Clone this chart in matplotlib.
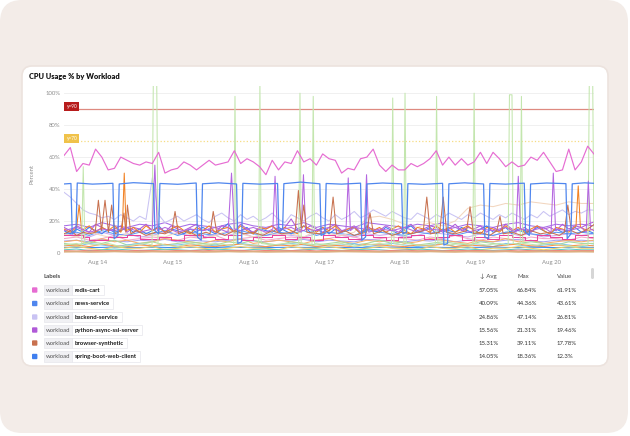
import numpy as np
import matplotlib
matplotlib.use("Agg")
import matplotlib.pyplot as plt
import matplotlib.dates as mdates
from matplotlib.patches import FancyBboxPatch, Rectangle

plt.rcParams['font.family'] = ['Lato', 'DejaVu Sans']

# ---------------- data ----------------
start = mdates.date2num(np.datetime64('2024-08-13T13:30'))
hours_2h = np.arange(0, 169, 2)     # 85 samples
hours_4h = np.arange(0, 169, 4)     # 43 samples

redis_cart = [61, 66, 51, 56, 55, 65, 60, 52, 53, 60,
              58, 56, 55, 57, 56, 63, 50, 52, 53, 57,
              55, 52, 55, 58, 55, 56, 57, 64, 56, 59,
              57, 54, 49, 58, 52, 57, 56, 64, 57, 59,
              55, 62, 59, 58, 50, 53, 52, 59, 60, 65,
              55, 51, 55, 52, 52, 56, 54, 56, 59, 64,
              55, 60, 55, 59, 55, 57, 63, 56, 63, 59,
              54, 57, 54, 55, 60, 58, 63, 57, 51, 52,
              65, 52, 57, 66.84, 61.91]

news_service = [(0, 43.2), (2.2, 43.5), (2.6, 12), (3.8, 14), (4.2, 43.8), (9, 43.1),
                (15.5, 43.6), (15.9, 9), (17.1, 11), (17.5, 43.2), (22, 44.0),
                (28.4, 43.4), (28.8, 14), (30.0, 12), (30.4, 43.5), (36, 43.0),
                (41.9, 43.8), (42.3, 10), (43.5, 8), (43.9, 43.3), (49, 43.9),
                (54.7, 43.2), (55.1, 6), (56.3, 7), (56.7, 43.6), (62, 43.1),
                (67.7, 43.5), (68.1, 13), (69.3, 15), (69.7, 43.4), (75, 44.36),
                (81.1, 43.3), (81.5, 11), (82.7, 12), (83.1, 43.5), (88, 43.1),
                (94.0, 43.7), (94.4, 8), (95.6, 10), (96.0, 43.2), (101, 43.8),
                (107.0, 43.3), (107.4, 12), (108.6, 13), (109.0, 43.4), (114, 43.0),
                (120.0, 43.6), (120.4, 5), (121.6, 6), (122.0, 43.3), (127, 43.9),
                (133.0, 43.2), (133.4, 10), (134.6, 9), (135.0, 43.5), (140, 43.1),
                (145.9, 43.7), (146.3, 13), (147.5, 11), (147.9, 43.2), (153, 43.8),
                (159.1, 43.4), (159.5, 9), (160.7, 12), (161.1, 43.3), (165, 43.9),
                (168, 43.61)]

backend_service = [38, 35, 31, 27, 25, 24, 22, 23, 21, 24,
                   22, 20, 23, 21, 47.14, 24, 19, 21, 23, 20,
                   22, 24, 21, 19, 23, 25, 22, 20, 24, 21,
                   23, 20, 22, 25, 21, 19, 24, 22, 20, 23,
                   25, 22, 20, 24, 21, 23, 26, 22, 24, 27,
                   25, 23, 26, 24, 22, 21, 25, 23, 21, 24,
                   22, 25, 23, 21, 24, 22, 25, 23, 21, 24,
                   22, 25, 23, 21, 24, 22, 26, 23, 25, 27,
                   24, 26, 25, 27, 26.81]

python_async = [16, 14, 17, 15, 13, 18, 16, 14, 15, 17,
                13, 16, 15, 18, 14, 16, 13, 17, 15, 14,
                16, 18, 14, 15, 13, 17, 16, 14, 18, 15,
                13, 16, 15, 17, 14, 16, 21.31, 15, 14, 17,
                15, 13, 16, 18, 14, 15, 17, 13, 16, 15,
                14, 17, 15, 13, 16, 18, 14, 15, 17, 16,
                13, 15, 18, 14, 16, 15, 17, 13, 16, 14,
                18, 15, 14, 16, 13, 17, 15, 16, 14, 18,
                15, 17, 16, 18, 19.46]

browser_synthetic = [(0, 12), (2, 14), (4, 11), (6, 13), (8, 12), (9.9, 13), (10.9, 33),
                     (11.9, 14), (13, 33), (14.1, 13), (15.1, 30), (16.2, 12), (18, 14),
                     (19, 25), (19.6, 13), (20.1, 30), (21.2, 12), (23, 14), (26, 11),
                     (29, 13), (32, 12), (34.2, 14), (35.2, 26), (36.3, 12), (39, 14),
                     (42, 11), (45, 13), (46.3, 12), (47.3, 26), (48.4, 13), (51, 11),
                     (54, 14), (57, 12), (60, 13), (63, 11), (66, 14), (69, 12), (72, 13),
                     (73.3, 14), (74.3, 39.11), (75.2, 16), (76, 30), (77, 13), (81, 12),
                     (84.2, 14), (85.3, 35), (86.4, 12), (89, 14), (92, 11), (95.9, 13),
                     (97, 25), (98.1, 12), (101, 14), (104, 11), (107, 13), (110, 12),
                     (113.9, 14), (115, 35), (116.1, 12), (119.1, 13), (120.2, 35),
                     (121.3, 13), (124, 12), (127.6, 14), (128.7, 29), (129.8, 12),
                     (132, 13), (135, 11), (137.2, 14), (138.2, 23), (139.2, 12), (142, 13),
                     (145, 11), (148, 14), (151, 12), (154, 13), (157, 11), (158.6, 13),
                     (159.7, 30), (160.8, 14), (163, 12), (166, 15), (168, 17.78)]

spring_boot = [14, 12, 15, 13, 16, 14, 12, 15, 13, 14,
               16, 13, 15, 12, 14, 17, 13, 15, 14, 12,
               15, 13, 16, 14, 12, 15, 18.36, 13, 14, 16,
               12, 15, 14, 13, 16, 14, 12, 15, 17, 13,
               14, 16, 12, 15, 13, 14, 16, 12, 15, 14,
               13, 16, 14, 12, 15, 17, 13, 14, 16, 12,
               15, 14, 13, 16, 14, 12, 15, 17, 13, 14,
               16, 12, 15, 14, 13, 16, 14, 12, 15, 13,
               14, 16, 13, 14, 12.3]

# other workloads (not listed in the visible legend rows)
green_spikes = [(0, 5), (4, 6), (5.6, 5), (6.1, 54), (6.6, 6), (10, 5), (14, 6), (18, 4),
                (22, 5), (26, 6), (27.9, 5), (28.3, 105), (29.4, 105), (29.8, 6), (32, 5),
                (36, 4), (40, 6), (44, 5), (48, 6), (52, 5), (53.8, 5), (54.2, 98),
                (54.6, 6), (58, 5), (61.7, 5), (62.1, 105), (62.5, 6), (66, 5), (70, 6),
                (74.4, 5), (74.8, 100), (75.2, 6), (78.6, 5), (79, 98), (79.4, 6), (84, 5),
                (88, 6), (92, 4), (96, 5), (100, 6), (103.8, 5), (104.2, 97), (104.6, 6),
                (107.7, 5), (108.1, 100), (108.5, 6), (112, 5), (117.7, 5), (118.1, 98),
                (118.5, 6), (122, 5), (126, 6), (129.6, 5), (130, 100), (130.4, 6),
                (134, 5), (138, 6), (140.8, 5), (141.2, 99), (142, 99), (142.4, 6),
                (144.6, 5), (145, 98), (145.4, 6), (150, 5), (154, 6), (158, 5), (162, 4),
                (166.1, 5), (166.5, 105), (167.6, 105), (168, 5)]

purple_spikes = [(0, 14), (4, 16), (8, 13), (12, 15), (16, 14), (20, 16), (24, 13), (28, 15),
                 (28.8, 55), (29.6, 14), (32, 16), (36, 13), (40, 15), (44, 14), (48, 16),
                 (52, 13), (53.1, 50), (54, 15), (56, 14), (60, 16), (64, 13), (66.2, 15),
                 (66.9, 48), (67.6, 14), (72, 16), (75.2, 13), (75.9, 49), (76.6, 15),
                 (80, 14), (84, 16), (88, 13), (89.4, 15), (90.1, 47), (90.8, 14), (92, 16),
                 (95.2, 15), (95.9, 49), (96.6, 13), (100, 15), (104, 14), (108, 16),
                 (112, 13), (116, 15), (120, 14), (124, 16), (128, 13), (132, 15), (136, 14),
                 (140, 16), (143.3, 13), (144, 48), (144.7, 15), (148, 14), (152, 16),
                 (154.4, 13), (155.1, 50), (155.8, 15), (160, 14), (164, 16), (165.5, 13),
                 (166.2, 45), (166.9, 15), (168, 14)]

orange_line = [(0, 15), (2, 13), (4, 16), (4.8, 30), (5.6, 14), (8, 17), (10, 13), (12, 16),
               (14, 14), (16, 17), (18, 13), (18.5, 15), (19.1, 50), (19.7, 14), (22, 16),
               (24, 13), (26, 17), (28, 14), (30, 16), (32, 13), (34, 15), (36, 17), (38, 14),
               (40, 12), (42, 16), (44, 14), (46, 17), (48, 13), (50, 15), (52, 16), (54, 13),
               (56, 17), (58, 14), (60, 12), (62, 16), (64, 15), (66, 17), (68, 13), (70, 16),
               (72, 14), (74, 12), (76, 17), (78, 15), (80, 13), (82, 16), (84, 14), (86, 17),
               (88, 13), (90, 15), (92, 16), (94, 12), (96, 17), (98, 14), (100, 16),
               (102, 13), (104, 15), (106, 17), (108, 14), (110, 12), (112, 16), (114, 15),
               (116, 13), (118, 17), (120, 14), (122, 16), (124, 13), (126, 15), (128, 17),
               (130, 14), (132, 12), (134, 16), (136, 15), (138, 13), (140, 17), (142, 14),
               (144, 16), (146, 13), (148, 15), (150, 17), (152, 14), (154, 12), (156, 16),
               (158, 15), (160, 13), (162.3, 17), (163, 42), (163.7, 16), (166, 14), (168, 15)]

magenta_steps = [11, 11, 11, 10, 8, 8, 8, 10, 10, 10,
                 11, 11, 9, 9, 9, 10, 10, 8, 8, 11,
                 11, 11, 10, 10, 9, 9, 11, 11, 8, 8,
                 10, 10, 10, 11, 11, 9, 9, 10, 10, 8,
                 8, 11, 11, 10, 10, 9, 9, 11, 11, 10,
                 10, 8, 8, 10, 10, 11, 11, 9, 9, 10,
                 10, 11, 11, 8, 8, 10, 10, 9, 9, 11,
                 11, 10, 10, 8, 8, 11, 11, 10, 10, 9,
                 9, 11, 11, 10, 10]

peach_line = [12, 10, 13, 11, 9, 12, 14, 11, 10, 13, 12, 9, 11, 14, 12, 10, 13, 11, 12, 10,
              14, 12, 11, 13, 22, 23, 21, 18, 16, 19, 17, 20, 28, 30, 29, 31, 30, 32, 31,
              30, 32, 31, 31]

low_series = {
    '#cda9ee': [11, 12, 10, 13, 11, 12, 10, 11, 13, 12, 11, 10, 12, 11, 13, 10, 11, 12, 11, 10,
                12, 13, 11, 10, 12, 11, 12, 10, 11, 13, 12, 11, 10, 12, 11, 13, 11, 12, 10, 11,
                12, 11, 12],
    '#a66be6': [17, 18, 16, 19, 17, 16, 18, 17, 19, 16, 18, 17, 16, 18, 19, 17, 16, 18, 17, 19,
                16, 18, 17, 16, 19, 18, 17, 16, 18, 17, 19, 16, 18, 17, 16, 18, 19, 17, 16, 18,
                17, 18, 17],
    '#5a9af5': [12, 13, 11, 14, 12, 11, 13, 12, 14, 11, 13, 12, 11, 13, 14, 12, 11, 13, 12, 14,
                11, 13, 12, 11, 14, 13, 12, 11, 13, 12, 14, 11, 13, 12, 11, 13, 14, 12, 11, 13,
                12, 13, 12],
    '#f3a7ca': [9, 10, 8, 9, 11, 8, 9, 10, 9, 8, 10, 9, 11, 8, 9, 10, 8, 9, 10, 9,
                8, 9, 11, 10, 8, 9, 10, 9, 8, 10, 9, 11, 9, 8, 10, 9, 8, 10, 9, 9, 8, 10, 9],
    '#a7a4f2': [7.5, 8, 7, 8.5, 7.5, 7, 8, 7.5, 8.5, 7, 8, 7.5, 7, 8, 8.5, 7.5, 7, 8, 7.5, 8.5,
                7, 8, 7.5, 7, 8.5, 8, 7.5, 7, 8, 7.5, 8.5, 7, 8, 7.5, 7, 8, 8.5, 7.5, 7, 8,
                7.5, 8, 7.5],
    '#f7ad6a': [7, 8, 6, 9, 7, 8, 6, 7, 9, 8, 7, 6, 8, 7, 9, 6, 7, 8, 7, 6, 8, 9, 7, 6, 8, 7,
                8, 6, 7, 9, 8, 7, 6, 8, 7, 9, 7, 8, 6, 7, 8, 7, 8],
    '#a5d99d': [6, 5, 7, 6, 8, 5, 6, 7, 5, 6, 7, 6, 5, 7, 6, 8, 6, 5, 7, 6, 5, 6, 7, 5, 6, 8,
                6, 7, 5, 6, 7, 6, 5, 7, 6, 5, 6, 7, 6, 5, 7, 6, 6],
    '#7fc4ef': [5, 4, 6, 5, 4, 5, 6, 4, 5, 5, 6, 4, 5, 4, 6, 5, 4, 5, 6, 5, 4, 5, 5, 6, 4, 5,
                6, 5, 4, 5, 6, 4, 5, 5, 4, 6, 5, 4, 5, 6, 5, 4, 5],
    '#ff9348': [4.5, 5, 4, 5.5, 4.5, 4, 5, 4.5, 5.5, 4, 5, 4.5, 4, 5, 5.5, 4.5, 4, 5, 4.5, 5.5,
                4, 5, 4.5, 4, 5.5, 5, 4.5, 4, 5, 4.5, 5.5, 4, 5, 4.5, 4, 5, 5.5, 4.5, 4, 5,
                4.5, 5, 4.5],
    '#3b8cf0': [3.5, 3.6, 3.4, 3.5, 3.7, 3.5, 3.4, 3.6, 3.5, 3.3, 3.6, 3.5, 3.4, 3.7, 3.5, 3.6,
                3.4, 3.5, 3.6, 3.5, 3.4, 3.6, 3.5, 3.3, 3.6, 3.5, 3.7, 3.4, 3.5, 3.6, 3.5, 3.4,
                3.6, 3.5, 3.7, 3.5, 3.4, 3.6, 3.5, 3.4, 3.6, 3.5, 3.5],
    '#f4d060': [3, 4, 3, 2, 4, 3, 3, 4, 2, 3, 4, 3, 2, 3, 4, 3, 3, 2, 4, 3, 3, 4, 3, 2, 3, 4,
                3, 3, 2, 4, 3, 3, 4, 2, 3, 3, 4, 3, 2, 3, 4, 3, 3],
    '#62c7c1': [2, 2.5, 1.5, 2, 2.5, 2, 1.5, 2, 2.4, 2, 1.6, 2, 2.5, 2, 1.5, 2.2, 2.5, 2, 1.5, 2,
                2.5, 2, 1.6, 2, 2.4, 2, 1.5, 2, 2.5, 2.1, 1.5, 2, 2.5, 2, 1.6, 2, 2.5, 2, 1.5, 2,
                2.5, 2, 2],
    '#f28080': [1.5, 1.2, 1.8, 1.4, 1.6, 1.3, 1.7, 1.5, 1.2, 1.6, 1.4, 1.8, 1.3, 1.5, 1.7, 1.2,
                1.6, 1.4, 1.5, 1.8, 1.3, 1.6, 1.4, 1.7, 1.5, 1.2, 1.6, 1.8, 1.4, 1.5, 1.3, 1.7,
                1.5, 1.6, 1.2, 1.4, 1.8, 1.5, 1.3, 1.6, 1.4, 1.5, 1.5],
    '#dcae80': [0.8, 0.9, 0.7, 0.8, 1.0, 0.8, 0.7, 0.9, 0.8, 0.8, 0.9, 0.7, 0.8, 1.0, 0.8, 0.9,
                0.7, 0.8, 0.9, 0.8, 0.7, 0.8, 1.0, 0.9, 0.8, 0.7, 0.8, 0.9, 0.8, 1.0, 0.8, 0.7,
                0.9, 0.8, 0.8, 1.0, 0.7, 0.8, 0.9, 0.8, 0.8, 0.9, 0.8],
}

thresholds = [(90, '#b71c1c', '#de8a80', '-'), (70, '#f0c24a', '#f6dc82', ':')]

legend_names = ['redis-cart', 'news-service', 'backend-service',
                'python-async-ssl-server', 'browser-synthetic', 'spring-boot-web-client']
legend_colors = ['#e66cd2', '#4f86ee', '#c9c3f3', '#b05ad8', '#c8714f', '#3f7fef']
legend_avg = [57.05, 40.09, 24.86, 15.56, 15.31, 14.05]
legend_max = [66.84, 44.36, 47.14, 21.31, 39.11, 18.36]
legend_val = [61.91, 43.61, 26.81, 19.46, 17.78, 12.3]


def xs(hours):
    return start + np.asarray(hours, dtype=float) / 24.0


def split(pts):
    t, v = zip(*pts)
    return xs(t), np.array(v)


# ---------------- figure / page ----------------
fig = plt.figure(figsize=(6.3, 4.36), dpi=100, facecolor='white')
bg = fig.add_axes([0, 0, 1, 1], zorder=0)
bg.set_xlim(0, 630)
bg.set_ylim(436, 0)
bg.axis('off')

bg.add_patch(FancyBboxPatch((0, 0), 628, 433, boxstyle='round,pad=0,rounding_size=22',
                            fc='#f3ece8', ec='none'))
bg.add_patch(FancyBboxPatch((22, 66), 586, 300, boxstyle='round,pad=0,rounding_size=10',
                            fc='white', ec='#ece3de', lw=1.2))
bg.text(29, 76, 'CPU Usage % by Workload', fontsize=5.3, fontweight='heavy',
        color='#141414', va='center', ha='left')
bg.text(32, 174, 'Percent', fontsize=4.2, color='#8e8e8e', rotation=90,
        va='center', ha='center')

# ---------------- chart ----------------
ax = fig.add_axes([64 / 630, 1 - 253 / 436, 530 / 630, 167 / 436], zorder=2)
ax.patch.set_alpha(0)
for s in ax.spines.values():
    s.set_visible(False)

lw = 0.75
for col, vals in low_series.items():
    ax.plot(xs(hours_4h), vals, color=col, lw=1.3 if col == '#dcae80' else lw)
ax.plot(xs(hours_4h), peach_line, color='#f2d6bf', lw=lw)
ax.plot(xs(hours_2h), magenta_steps, color='#e8449e', lw=lw, drawstyle='steps-post')
ax.plot(xs(hours_2h), backend_service, color=legend_colors[2], lw=lw)
ax.plot(xs(hours_2h), spring_boot, color=legend_colors[5], lw=lw)
ax.plot(xs(hours_2h), python_async, color=legend_colors[3], lw=lw)
ax.plot(*split(orange_line), color='#f28224', lw=lw)
ax.plot(*split(green_spikes), color='#c3e6ae', lw=lw)
ax.plot(*split(purple_spikes), color='#b466e0', lw=lw)
ax.plot(*split(browser_synthetic), color=legend_colors[4], lw=lw)
ax.plot(*split(news_service), color=legend_colors[1], lw=0.9)
ax.plot(xs(hours_2h), redis_cart, color=legend_colors[0], lw=0.85)

for yv, box_col, line_col, ls in thresholds:
    ax.axhline(yv, color=line_col, lw=0.9, ls=ls, zorder=1.5)
    ax.annotate(f'y={yv}', xy=(0, yv), xycoords=('axes fraction', 'data'),
                xytext=(2.5, 3), textcoords='offset pixels', fontsize=3.4, color='white',
                va='center', ha='left',
                bbox=dict(boxstyle='square,pad=0.45', fc=box_col, ec='none'))

ax.set_xlim(xs(0), xs(168))
ax.set_ylim(0, 104.5)
ax.set_yticks([0, 20, 40, 60, 80, 100])
ax.set_yticklabels(['0', '20%', '40%', '60%', '80%', '100%'])
ax.xaxis.set_major_locator(mdates.DayLocator())
ax.xaxis.set_major_formatter(mdates.DateFormatter('%b %d'))
ax.tick_params(length=0, labelsize=4.3, labelcolor='#8e8e8e', pad=2.5)
ax.tick_params(axis='x', pad=5)
ax.grid(axis='y', color='#eeeeee', lw=0.6, zorder=0)
ax.set_axisbelow(True)

# ---------------- legend table ----------------
hdr_y = 276
bg.text(44, hdr_y, 'Labels', fontsize=4.4, fontweight='bold', color='#4a4a4a', va='center')
bg.text(480, hdr_y, '\u2193 Avg', fontsize=4.4, color='#4a4a4a', va='center')
bg.text(517, hdr_y, 'Max', fontsize=4.4, color='#4a4a4a', va='center')
bg.text(557, hdr_y, 'Value', fontsize=4.4, color='#4a4a4a', va='center')
bg.add_patch(FancyBboxPatch((591, 268), 3, 11, boxstyle='round,pad=0,rounding_size=1.5',
                            fc='#d6d6d6', ec='none'))

fig.canvas.draw()
renderer = fig.canvas.get_renderer()
row_y = [290, 303.5, 317, 330, 343, 356.5]
for i, name in enumerate(legend_names):
    y = row_y[i]
    bg.add_patch(FancyBboxPatch((32, y - 2.7), 5.4, 5.4, boxstyle='round,pad=0,rounding_size=1',
                                fc=legend_colors[i], ec='none'))
    bg.add_patch(Rectangle((44, y - 5.2), 28, 10.4, fc='#f1f1f4', ec='#e6e6ec', lw=0.5))
    bg.text(58, y, 'workload', fontsize=4.3, color='#555555', va='center', ha='center')
    t = bg.text(75, y, name, fontsize=4.3, fontweight='bold', color='#1a1a1a',
                va='center', ha='left', zorder=3)
    w = t.get_window_extent(renderer).width
    bg.add_patch(Rectangle((72, y - 5.2), w + 6, 10.4, fc='white', ec='#e6e6ec', lw=0.5,
                           zorder=2))
    bg.text(479, y, f'{legend_avg[i]:g}%', fontsize=4.3, color='#333333', va='center')
    bg.text(517, y, f'{legend_max[i]:g}%', fontsize=4.3, color='#333333', va='center')
    bg.text(557, y, f'{legend_val[i]:g}%', fontsize=4.3, color='#333333', va='center')

fig.savefig('out.png', dpi=100, facecolor='white')
